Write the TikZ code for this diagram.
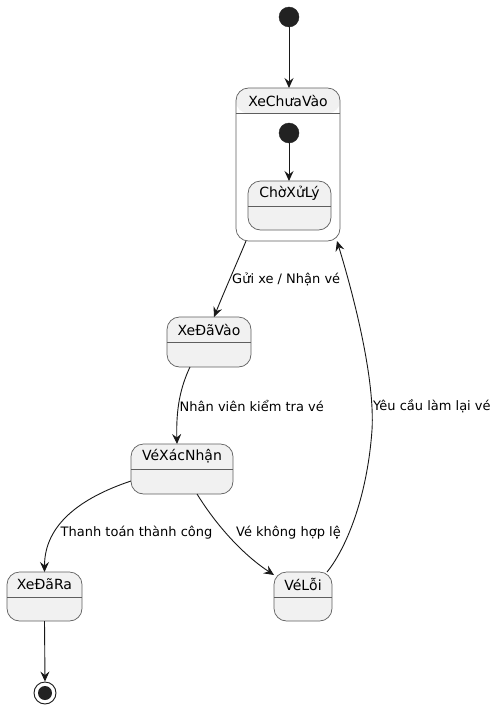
\documentclass[tikz,border=0pt]{standalone}
\usepackage{fontspec}
\setmainfont{DejaVu Sans}
\usetikzlibrary{arrows.meta}

\definecolor{statefill}{HTML}{F1F1F1}
\definecolor{stateline}{HTML}{5E5E5E}
\definecolor{edgeline}{HTML}{181818}
\definecolor{dotfill}{HTML}{222222}

\tikzset{
  statebox/.style={draw=stateline, fill=statefill, line width=0.7pt,
    rounded corners=12.5pt, inner sep=0pt, outer sep=0pt},
  compositebox/.style={statebox, fill=white,
    path picture={\fill[statefill] (path picture bounding box.north west)
      rectangle ([yshift=-25.5pt]path picture bounding box.north east);}},
  sepline/.style={draw=stateline, line width=0.7pt},
  titletext/.style={font=\fontsize{14}{16}\selectfont, text=black, inner sep=0pt},
  edgelabel/.style={font=\fontsize{13}{15}\selectfont, text=black, inner sep=0pt, anchor=west},
  trans/.style={draw=edgeline, line width=0.9pt,
    -{Stealth[length=10pt, width=9pt, inset=3.5pt]}},
  startdot/.style={circle, fill=dotfill, draw=dotfill, minimum size=20pt, inner sep=0pt},
  enddot/.style={circle, draw=edgeline, fill=white, line width=0.9pt, minimum size=22pt, inner sep=0pt},
}

% state box: style, name, centre x, centre y, width, height, title
\newcommand\umlstate[7]{%
  \node[#1, minimum width=#5pt, minimum height=#6pt] (#2) at (#3,#4) {};
  \draw[sepline] ([yshift=-25.5pt]#2.north west) -- ([yshift=-25.5pt]#2.north east);
  \node[titletext] at ([yshift=-12.5pt]#2.north) {#7};
}

\begin{document}
\begin{tikzpicture}[x=1pt, y=-1pt]
  \useasboundingbox (0,0) rectangle (500,709);

  % outer initial state
  \node[startdot] (init) at (289,17) {};

  % composite state with its own initial state and sub-state
  \umlstate{compositebox}{xcv}{288}{164.5}{104}{153}{XeChưaVào}
  \node[startdot] (subinit) at (289,133) {};
  \umlstate{statebox}{cxl}{289.5}{205.5}{83}{49}{ChờXửLý}

  % simple states
  \umlstate{statebox}{xdv}{209}{342}{84}{50}{XeĐãVào}
  \umlstate{statebox}{vxn}{182}{469}{102}{50}{VéXácNhận}
  \umlstate{statebox}{xdr}{44.5}{596.5}{75}{49}{XeĐãRa}
  \umlstate{statebox}{vl}{303}{596.5}{58}{49}{VéLỗi}

  % final state
  \node[enddot] (final) at (45,693) {};
  \node[circle, fill=dotfill, minimum size=14pt, inner sep=0pt] (finalcore) at (final) {};

  % transitions
  \draw[trans] (init) -- (xcv.north -| init);
  \draw[trans] (subinit) -- (cxl.north -| subinit);

  \draw[trans] ([xshift=-42pt]xcv.south) .. controls (236,265) and (224,292) .. ([xshift=5pt]xdv.north);
  \node[edgelabel] (lbl1) at (232,279) {Gửi xe / Nhận vé};

  \draw[trans] ([xshift=-19pt]xdv.south) .. controls (180,388) and (176,410) .. ([xshift=-5pt]vxn.north);
  \node[edgelabel] (lbl2) at (179.5,406) {Nhân viên kiểm tra vé};

  \draw[trans] ([yshift=-12pt]vxn.west) .. controls (80,498) and (44.5,525) .. (xdr.north);
  \node[edgelabel] (lbl3) at (60.5,533) {Thanh toán thành công};

  \draw[trans] ([xshift=15pt]vxn.south) .. controls (218,528) and (245,556) .. ([yshift=-3pt]vl.north west);
  \node[edgelabel] (lbl4) at (236,533) {Vé không hợp lệ};

  \draw[trans] ([xshift=24pt]vl.north) .. controls (345,550) and (367,500) .. (372,430)
                .. controls (375,380) and (355,300) .. ([xshift=49pt]xcv.south);
  \node[edgelabel] (lbl5) at (373,406) {Yêu cầu làm lại vé};

  \draw[trans] (xdr.south) -- (final.north);
\end{tikzpicture}
\end{document}
